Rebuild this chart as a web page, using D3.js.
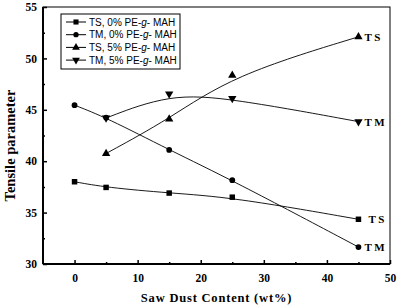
<!DOCTYPE html>
<html>
<head>
<meta charset="utf-8">
<script src="https://cdn.jsdelivr.net/npm/d3@7"></script>
<style>
body{margin:0;background:#fff}
</style>
</head>
<body>
<div id="chart"></div>
<script>
var width = 406
var height = 308

// data
var xTS0 = [0,5,15,25,45]
var ts0 = [38.0,37.45,36.9,36.5,34.35]
var xTM0 = [0,5,15,25,45]
var tm0 = [45.45,44.25,41.1,38.15,31.65]
var xTS5 = [5,15,25,45]
var ts5 = [40.75,44.1,48.35,52.1]
var xTM5 = [5,15,25,45]
var tm5 = [44.2,46.55,46.1,43.85]
var seriesNames = ["TS, 0% PE-", "TM, 0% PE-", "TS, 5% PE-", "TM, 5% PE-"]
var endLabels = ["T S","T M","T S","T M"]
var xTicks = [0,10,20,30,40,50]
var yTicks = [30,35,40,45,50,55]

var plotL = 43, plotR = 390, plotT = 7, plotB = 264

var svg = d3.select("#chart").append("svg")
.attr("width",width)
.attr("height",height)

var x = d3.scaleLinear().domain([-5,50]).range([plotL,plotR])
var y = d3.scaleLinear().domain([30,55]).range([plotB,plotT])

// frame
svg.append("rect")
.attr("x",plotL).attr("y",plotT)
.attr("width",plotR-plotL).attr("height",plotB-plotT)
.style("fill","none").style("stroke","#000").style("stroke-width",1)

// bottom and left axes are heavier
svg.append("line").attr("x1",plotL).attr("x2",plotR).attr("y1",plotB).attr("y2",plotB)
.style("stroke","#000").style("stroke-width",2)
svg.append("line").attr("x1",plotL).attr("x2",plotL).attr("y1",plotT).attr("y2",plotB)
.style("stroke","#000").style("stroke-width",2)

svg.append("g")
.attr("transform","translate(0,"+plotB+")")
.call(d3.axisBottom(x).tickValues(xTicks).tickSize(-4).tickPadding(10).tickFormat(d3.format("d")))
svg.append("g")
.attr("transform","translate(0,"+plotB+")")
.call(d3.axisBottom(x).tickValues([5,15,25,35,45]).tickSize(-2).tickFormat(""))

svg.append("g")
.attr("transform","translate("+plotL+",0)")
.call(d3.axisLeft(y).tickValues(yTicks).tickSize(-4).tickPadding(6).tickFormat(d3.format("d")))
svg.append("g")
.attr("transform","translate("+plotL+",0)")
.call(d3.axisLeft(y).tickValues([32.5,37.5,42.5,47.5,52.5]).tickSize(-2).tickFormat(""))

svg.selectAll(".domain").remove()
svg.selectAll(".tick line").style("stroke","#000").style("stroke-width",1.5)
svg.selectAll(".tick text")
.style("font-family","'Liberation Serif','Times New Roman',serif")
.style("font-weight","bold")
.style("font-size","11.5px")
.style("fill","#000")

svg.append("text")
.attr("transform","translate(15,"+((plotT+plotB)/2+10)+")rotate(270)")
.attr("text-anchor","middle")
.text("Tensile parameter")
.style("font-family","'Liberation Serif','Times New Roman',serif")
.style("font-weight","bold")
.style("font-size","14.5px")

svg.append("text")
.attr("x",(plotL+plotR)/2)
.attr("y",302)
.attr("text-anchor","middle")
.text("Saw Dust Content (wt%)")
.style("font-family","'Liberation Serif','Times New Roman',serif")
.style("font-weight","bold")
.style("font-size","12.5px")
.style("letter-spacing","0.8px")

var series = [
  {xs:xTS0, ys:ts0, sym:d3.symbolSquare, rot:0},
  {xs:xTM0, ys:tm0, sym:d3.symbolCircle, rot:0},
  {xs:xTS5, ys:ts5, sym:d3.symbolTriangle, rot:0},
  {xs:xTM5, ys:tm5, sym:d3.symbolTriangle, rot:180}
]

var line = d3.line().x(d=>x(d[0])).y(d=>y(d[1])).curve(d3.curveBasis)

series.forEach(function(s,i){
  var pts = s.xs.map((v,j)=>[v,s.ys[j]])
  svg.append("path")
  .datum(pts)
  .attr("d",line)
  .style("fill","none").style("stroke","#000").style("stroke-width",0.9)

  svg.selectAll(".m"+i)
  .data(pts)
  .enter()
  .append("path")
  .attr("d",d3.symbol().type(s.sym).size(s.sym==d3.symbolCircle?26:30))
  .attr("transform",d=>"translate("+x(d[0])+","+y(d[1])+")rotate("+s.rot+")")
  .style("fill","#000")

  var last = pts[pts.length-1]
  svg.append("text")
  .attr("x",x(last[0])+(i==0?10:6))
  .attr("y",y(last[1])+4)
  .text(endLabels[i])
  .style("font-family","'Liberation Serif','Times New Roman',serif")
  .style("font-weight","bold")
  .style("font-size","11px")
})

// legend
var lg = svg.append("g").attr("transform","translate(61,14)")
lg.append("rect").attr("width",119).attr("height",55)
.style("fill","#fff").style("stroke","#000").style("stroke-width",1)

series.forEach(function(s,i){
  var ly = 8 + i*12.7
  lg.append("line").attr("x1",5).attr("x2",25).attr("y1",ly).attr("y2",ly)
  .style("stroke","#000").style("stroke-width",1)
  lg.append("path")
  .attr("d",d3.symbol().type(s.sym).size(s.sym==d3.symbolCircle?22:26))
  .attr("transform","translate(15,"+ly+")rotate("+s.rot+")")
  .style("fill","#000")
  var t = lg.append("text").attr("x",28).attr("y",ly+3.5)
  .style("font-family","'Liberation Sans',Arial,sans-serif")
  .style("font-size","10px")
  t.append("tspan").text(seriesNames[i])
  t.append("tspan").text("g").style("font-style","italic")
  t.append("tspan").text("- MAH")
})
</script>
</body>
</html>
